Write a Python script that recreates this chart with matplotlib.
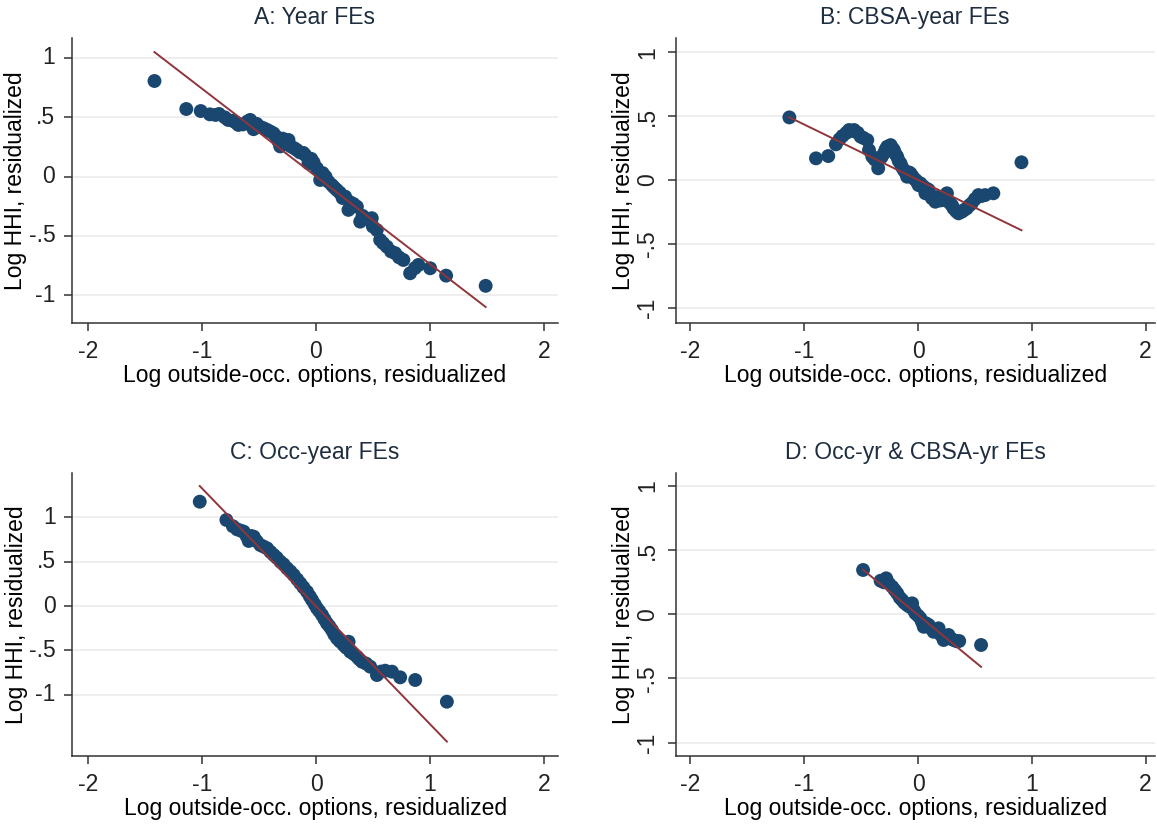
import matplotlib
matplotlib.use("Agg")
import matplotlib.pyplot as plt

plt.rcParams['font.family'] = ['Liberation Sans', 'DejaVu Sans']

# binned scatter points per specification
a_x = [-1.416, -1.137, -1.010, -0.930, -0.880, -0.850, -0.800, -0.770, -0.730, -0.700,
       -0.680, -0.640, -0.600, -0.576, -0.560, -0.547, -0.520, -0.490, -0.459, -0.430,
       -0.400, -0.372, -0.350, -0.330, -0.313, -0.290, -0.260, -0.240, -0.220, -0.190,
       -0.167, -0.140, -0.110, -0.094, -0.065, -0.040, -0.020, 0.009, 0.038, 0.060,
       0.085, 0.110, 0.140, 0.160, 0.184, 0.210, 0.235, 0.257, 0.286, 0.300,
       0.330, 0.360, 0.389, 0.410, 0.440, 0.470, 0.491, 0.500, 0.535, 0.564,
       0.590, 0.623, 0.660, 0.696, 0.730, 0.768, 0.827, 0.870, 0.900, 1.003,
       1.143, 1.490]
a_y = [0.806, 0.570, 0.553, 0.525, 0.520, 0.528, 0.500, 0.478, 0.470, 0.455,
       0.436, 0.440, 0.465, 0.478, 0.440, 0.400, 0.445, 0.420, 0.408, 0.395,
       0.380, 0.365, 0.340, 0.300, 0.255, 0.320, 0.280, 0.309, 0.255, 0.240,
       0.225, 0.205, 0.200, 0.183, 0.113, 0.150, 0.120, 0.071, -0.028, 0.030,
       0.000, -0.042, -0.070, -0.090, -0.112, -0.135, -0.180, -0.168, -0.280, -0.215,
       -0.230, -0.253, -0.379, -0.330, -0.350, -0.360, -0.350, -0.420, -0.449, -0.533,
       -0.560, -0.590, -0.630, -0.645, -0.680, -0.702, -0.814, -0.770, -0.744, -0.772,
       -0.834, -0.920]

b_x = [-1.131, -0.897, -0.789, -0.722, -0.690, -0.664, -0.630, -0.606, -0.580, -0.562,
       -0.530, -0.504, -0.480, -0.446, -0.431, -0.402, -0.380, -0.350, -0.320, -0.300,
       -0.285, -0.271, -0.241, -0.225, -0.212, -0.195, -0.183, -0.170, -0.154, -0.140,
       -0.125, -0.110, -0.096, -0.080, -0.066, -0.050, -0.038, -0.020, -0.009, 0.005,
       0.021, 0.035, 0.050, 0.065, 0.080, 0.094, 0.110, 0.122, 0.140, 0.152,
       0.170, 0.181, 0.195, 0.210, 0.235, 0.254, 0.270, 0.283, 0.300, 0.312,
       0.335, 0.356, 0.370, 0.385, 0.405, 0.428, 0.450, 0.472, 0.500, 0.531,
       0.560, 0.589, 0.662, 0.909]
b_y = [0.491, 0.170, 0.188, 0.280, 0.320, 0.345, 0.370, 0.392, 0.385, 0.392,
       0.370, 0.340, 0.330, 0.313, 0.235, 0.183, 0.160, 0.092, 0.180, 0.209,
       0.240, 0.261, 0.274, 0.250, 0.235, 0.200, 0.183, 0.150, 0.131, 0.100,
       0.078, 0.060, 0.026, 0.060, 0.052, 0.030, 0.013, 0.000, -0.013, -0.040,
       -0.026, -0.050, -0.052, -0.104, -0.070, -0.078, -0.120, -0.143, -0.150, -0.170,
       -0.140, -0.131, -0.160, -0.157, -0.150, -0.104, -0.170, -0.183, -0.200, -0.222,
       -0.245, -0.261, -0.250, -0.248, -0.235, -0.222, -0.200, -0.183, -0.150, -0.118,
       -0.125, -0.118, -0.104, 0.139]

c_x = [-1.021, -0.787, -0.730, -0.693, -0.660, -0.635, -0.610, -0.591, -0.570, -0.547,
       -0.520, -0.489, -0.460, -0.430, -0.400, -0.372, -0.345, -0.313, -0.285, -0.254,
       -0.225, -0.196, -0.165, -0.138, -0.110, -0.079, -0.055, -0.035, -0.012, 0.009,
       0.030, 0.053, 0.075, 0.096, 0.118, 0.140, 0.160, 0.184, 0.210, 0.242,
       0.265, 0.286, 0.301, 0.330, 0.360, 0.380, 0.404, 0.440, 0.476, 0.535,
       0.570, 0.608, 0.667, 0.739, 0.871, 1.149]
c_y = [1.177, 0.971, 0.900, 0.865, 0.850, 0.839, 0.790, 0.734, 0.790, 0.782,
       0.730, 0.688, 0.670, 0.651, 0.610, 0.576, 0.545, 0.500, 0.470, 0.425,
       0.390, 0.350, 0.300, 0.256, 0.210, 0.161, 0.110, 0.068, 0.020, -0.026,
       -0.060, -0.102, -0.150, -0.195, -0.230, -0.271, -0.320, -0.365, -0.400, -0.440,
       -0.470, -0.403, -0.516, -0.540, -0.572, -0.600, -0.629, -0.650, -0.685, -0.779,
       -0.740, -0.730, -0.741, -0.805, -0.835, -1.080]

d_x = [-0.483, -0.329, -0.300, -0.280, -0.255, -0.227, -0.205, -0.183, -0.160, -0.140,
       -0.120, -0.096, -0.075, -0.052, -0.035, -0.023, 0.000, 0.021, 0.035, 0.050,
       0.070, 0.094, 0.115, 0.137, 0.160, 0.181, 0.200, 0.225, 0.250, 0.268,
       0.290, 0.312, 0.340, 0.362, 0.554]
d_y = [0.346, 0.262, 0.250, 0.281, 0.240, 0.215, 0.190, 0.164, 0.130, 0.112,
       0.090, 0.073, 0.060, 0.086, 0.030, 0.008, -0.010, -0.031, -0.060, -0.097,
       -0.070, -0.083, -0.110, -0.136, -0.120, -0.109, -0.160, -0.200, -0.175, -0.161,
       -0.190, -0.200, -0.210, -0.208, -0.239]

# linear fit (intercept, slope)
a_fit = (0.003, -0.739)
b_fit = (0.001, -0.434)
c_fit = (-0.003, -1.329)
d_fit = (-0.005, -0.730)

titles = ['A: Year FEs', 'B: CBSA-year FEs', 'C: Occ-year FEs', 'D: Occ-yr & CBSA-yr FEs']
x_ticks = [-2, -1, 0, 1, 2]
x_labels = ['-2', '-1', '0', '1', '2']
y_ticks = [-1, -0.5, 0, 0.5, 1]
y_labels = ['-1', '-.5', '0', '.5', '1']

navy = '#1a476f'
maroon = '#90353b'

fig = plt.figure(figsize=(11.57, 8.25), dpi=100)

panels = [
    (a_x, a_y, a_fit, [0.0622, 0.6085, 0.4201, 0.3454], (-2.14, 2.125), (-1.233, 1.168), 0),
    (b_x, b_y, b_fit, [0.5840, 0.6081, 0.4140, 0.3458], (-2.13, 2.08), (-1.123, 1.113), 90),
    (c_x, c_y, c_fit, [0.0625, 0.0836, 0.4198, 0.3434], (-2.14, 2.125), (-1.693, 1.504), 0),
    (d_x, d_y, d_fit, [0.5840, 0.0836, 0.4140, 0.3427], (-2.13, 2.08), (-1.105, 1.100), 90),
]

for (xs, ys, fit, rect, xlim, ylim, yrot), title in zip(panels, titles):
    ax = fig.add_axes(rect)
    ax.scatter(xs, ys, s=100, color=navy, edgecolors='none', zorder=3)
    x0, x1 = min(xs), max(xs)
    ax.plot([x0, x1], [fit[0] + fit[1] * x0, fit[0] + fit[1] * x1],
            color=maroon, lw=1.4, zorder=4)

    ax.set_xlim(*xlim)
    ax.set_ylim(*ylim)
    ax.set_xticks(x_ticks)
    ax.set_xticklabels(x_labels)
    ax.set_yticks(y_ticks)
    ax.set_yticklabels(y_labels, rotation=yrot, va='center')
    ax.grid(axis='y', color='#ebebeb', lw=1.2, zorder=0)
    ax.set_axisbelow(True)

    for side in ['top', 'right']:
        ax.spines[side].set_visible(False)
    for side in ['left', 'bottom']:
        ax.spines[side].set_color('#333333')
        ax.spines[side].set_linewidth(1.1)
    ax.tick_params(axis='both', length=6, width=1.1, color='#333333',
                   labelsize=16.5, labelcolor='#222222', pad=6)

    ax.set_title(title, fontsize=16.5, color='#1e2e40', pad=10)
    ax.set_xlabel('Log outside-occ. options, residualized', fontsize=16.5, labelpad=1)
    ax.set_ylabel('Log HHI, residualized', fontsize=16.5, labelpad=1)

fig.savefig('out.png', dpi=100)
